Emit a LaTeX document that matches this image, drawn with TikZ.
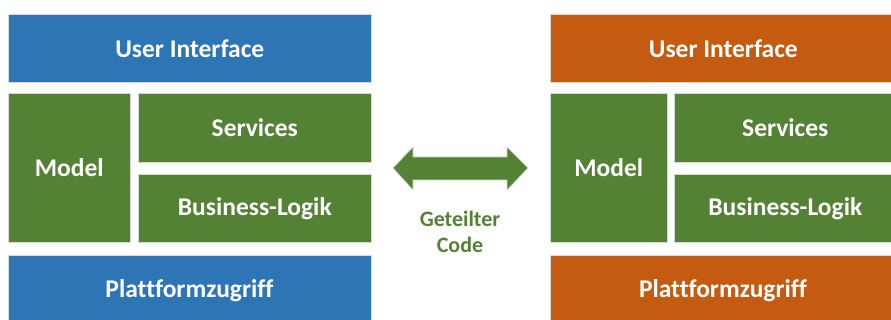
\documentclass[tikz,border=0pt]{standalone}
\usepackage{fontspec}
\setmainfont[Ligatures=CommonOff]{Carlito}
\usetikzlibrary{shapes.arrows}
\definecolor{uiblue}{HTML}{2E75B6}
\definecolor{coregreen}{HTML}{548235}
\definecolor{uiorange}{HTML}{C55A11}
\begin{document}
\begin{tikzpicture}[x=1pt,y=-1pt,
  layer/.style={draw=white!85!black,line width=0.6pt,inner sep=0pt,
    font=\fontsize{25.5}{28}\selectfont\bfseries,text=white},
  boxat/.style n args={4}{minimum width=#3pt-#1pt,minimum height=#4pt-#2pt,
    anchor=north west},
  label/.style={font=\fontsize{25.5}{28}\selectfont\bfseries,text=white},
]
\useasboundingbox (0,0) rectangle (891,320);
\begin{scope}
\clip (0,0) rectangle (891,320);
% left platform stack
\node[layer,fill=uiblue,boxat={8}{14}{371}{82}] (luix) at (8,14) {User Interface};
\node[layer,fill=coregreen,boxat={8}{93}{130}{242}] (lmod) at (8,93) {Model};
\node[layer,fill=coregreen,boxat={138}{93}{371}{162}] (lsrv) at (138,93) {Services};
\node[layer,fill=coregreen,boxat={138}{174}{371}{242}] (lbiz) at (138,174) {Business-Logik};
\node[layer,fill=uiblue,boxat={8}{255}{371}{330}] (lpla) at (8,255) {};
\node[label] at (189.5,291) {Plattformzugriff};
% right platform stack
\node[layer,fill=uiorange,boxat={550}{14}{896}{82}] (ruix) at (550,14) {User Interface};
\node[layer,fill=coregreen,boxat={550}{93}{667}{242}] (rmod) at (550,93) {Model};
\node[layer,fill=coregreen,boxat={674}{93}{896}{162}] (rsrv) at (674,93) {Services};
\node[layer,fill=coregreen,boxat={674}{174}{896}{242}] (rbiz) at (674,174) {Business-Logik};
\node[layer,fill=uiorange,boxat={550}{255}{896}{330}] (rpla) at (550,255) {};
\node[label] at (723,291) {Plattformzugriff};
\end{scope}
% shared-code double arrow
\fill[coregreen,draw=white!85!black,line width=0.6pt]
  (393,168) -- (413,147) -- (413,157) -- (507,157) -- (507,147) -- (528,168)
  -- (507,190) -- (507,180) -- (413,180) -- (413,190) -- cycle;
\node[font=\fontsize{22}{26}\selectfont\bfseries,text=coregreen,align=center]
  (share) at (460,232) {Geteilter\\Code};
\end{tikzpicture}
\end{document}
